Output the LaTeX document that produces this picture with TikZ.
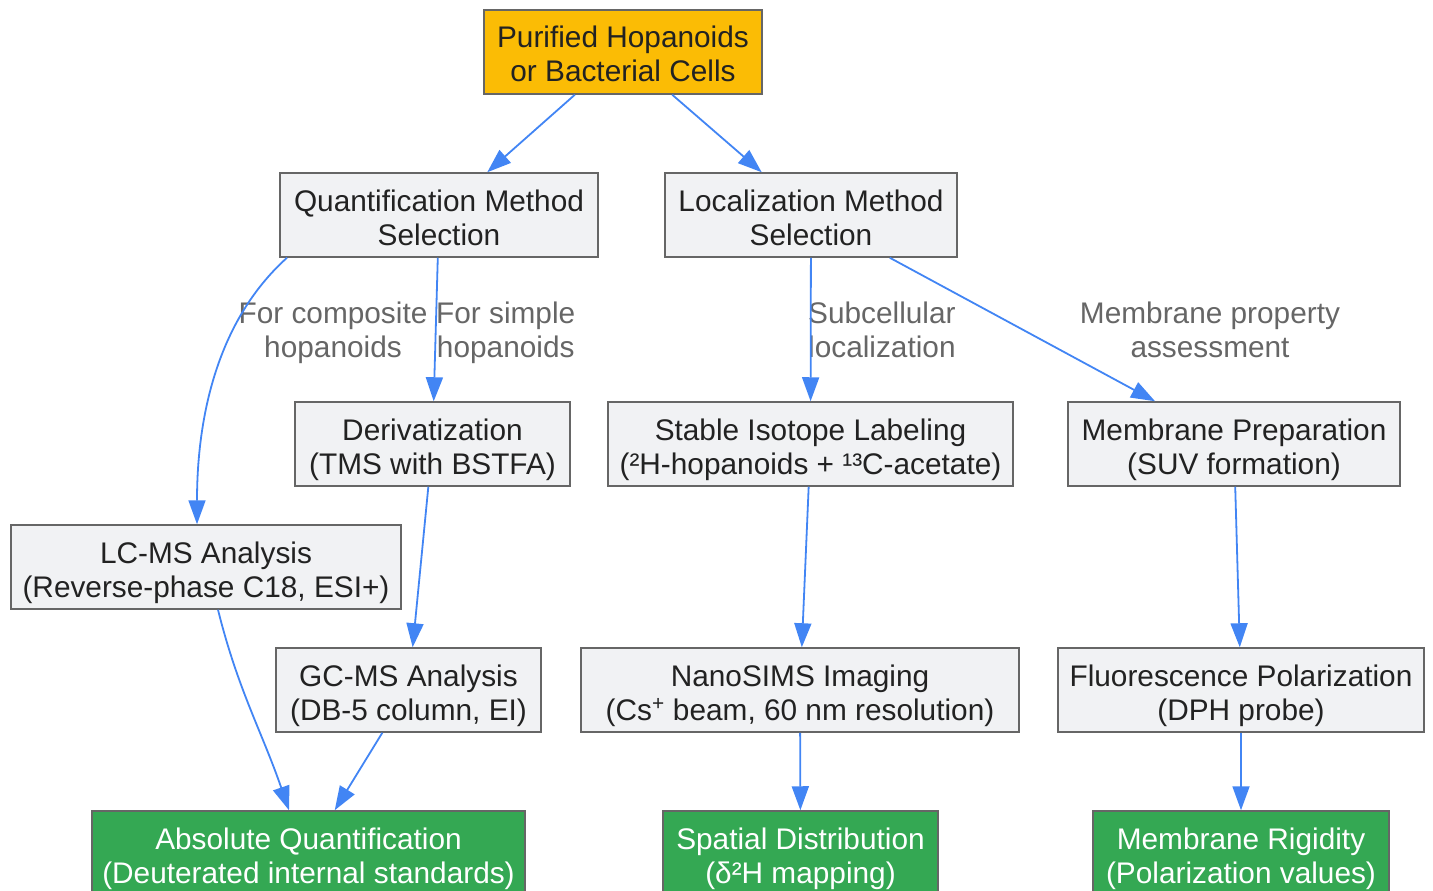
\documentclass[tikz,border=0pt]{standalone}
\usepackage{fontspec}
\setmainfont{Liberation Sans}
\usepackage{tikz}
\usetikzlibrary{arrows.meta,shapes}

\definecolor{flowblue}{HTML}{4285F4}
\definecolor{boxgray}{HTML}{F1F2F4}
\definecolor{boxline}{HTML}{666666}
\definecolor{startamber}{HTML}{FBBC05}
\definecolor{endgreen}{HTML}{34A853}
\definecolor{txtdark}{HTML}{222222}
\definecolor{txtgray}{HTML}{666666}

% two centred lines, second baseline 30pt below the node centre
\newcommand{\twolines}[2]{\raisebox{-30pt}[0pt][0pt]{\begin{tabular}[b]{@{}c@{}}#1\\#2\end{tabular}}}

\tikzset{
  stepbox/.style={rectangle,draw=boxline,line width=1.5pt,fill=boxgray,text=txtdark,
                  minimum height=84pt,inner sep=0pt,
                  font=\fontsize{29.8}{34}\selectfont},
  startbox/.style={stepbox,fill=startamber},
  endbox/.style={stepbox,fill=endgreen,text=white},
  edgelabel/.style={inner sep=0pt,text=txtgray,
                  font=\fontsize{29.8}{34}\selectfont},
  flow/.style={draw=flowblue,line width=1.8pt,-{Triangle[length=24pt,width=17pt]}}
}

\begin{document}
\begin{tikzpicture}[x=1pt, y=-1pt]
	\useasboundingbox (0,0) rectangle (1433,891);
	% First we draw the boxes
	\node[startbox,minimum width=278pt] (purified) at (623,52) {\twolines{Purified Hopanoids}{or Bacterial Cells}};
	\node[stepbox,minimum width=318pt] (quant) at (439,215) {\twolines{Quantification Method}{Selection}};
	\node[stepbox,minimum width=292pt] (local) at (811,215) {\twolines{Localization Method}{Selection}};
	\node[stepbox,minimum width=275pt] (deriv) at (432.5,444) {\twolines{Derivatization}{(TMS with BSTFA)}};
	\node[stepbox,minimum width=405pt] (isotope) at (810.5,444) {\twolines{Stable Isotope Labeling}{(²H-hopanoids + ¹³C-acetate)}};
	\node[stepbox,minimum width=332pt] (memprep) at (1234,444) {\twolines{Membrane Preparation}{(SUV formation)}};
	\node[stepbox,minimum width=390pt] (lcms) at (206,567) {\twolines{LC-MS Analysis}{(Reverse-phase C18, ESI+)}};
	\node[stepbox,minimum width=265pt] (gcms) at (408.5,690) {\twolines{GC-MS Analysis}{(DB-5 column, EI)}};
	\node[stepbox,minimum width=438pt] (nanosims) at (800,690) {\twolines{NanoSIMS Imaging}{(Cs\textsuperscript{+} beam, 60 nm resolution)}};
	\node[stepbox,minimum width=366pt] (fluor) at (1241,690) {\twolines{Fluorescence Polarization}{(DPH probe)}};
	\node[endbox,minimum width=433pt] (absquant) at (308.5,853) {\twolines{Absolute Quantification}{(Deuterated internal standards)}};
	\node[endbox,minimum width=275pt] (spatial) at (800.5,853) {\twolines{Spatial Distribution}{(δ²H mapping)}};
	\node[endbox,minimum width=296pt] (rigidity) at (1241,853) {\twolines{Membrane Rigidity}{(Polarization values)}};
	% Then the labels
	\node[edgelabel] (lblcomposite) at (333,327.5) {\twolines{For composite}{hopanoids}};
	\node[edgelabel,anchor=west] (lblsimple) at (436,327.5) {\twolines{For simple}{hopanoids}};
	\node[edgelabel,anchor=west] (lblsubcell) at (808,327.5) {\twolines{Subcellular}{localization}};
	\node[edgelabel] (lblmembrane) at (1210,327.5) {\twolines{Membrane property}{assessment}};
	% And the arrows
	\foreach \source/\dest in {purified/quant, purified/local, quant/deriv, local/isotope,
	                           local/memprep, deriv/gcms, gcms/absquant, isotope/nanosims,
	                           nanosims/spatial, memprep/fluor, fluor/rigidity}
		\path[flow] (\source) -- (\dest);
	\path[flow] ([xshift=-152pt]quant.south) to[out=-138,in=90,looseness=0.9] ([xshift=-9pt]lcms.north);
	\path[flow] ([xshift=12pt]lcms.south) to[out=-76,in=109] ([xshift=-19.5pt]absquant.north);
\end{tikzpicture}
\end{document}
